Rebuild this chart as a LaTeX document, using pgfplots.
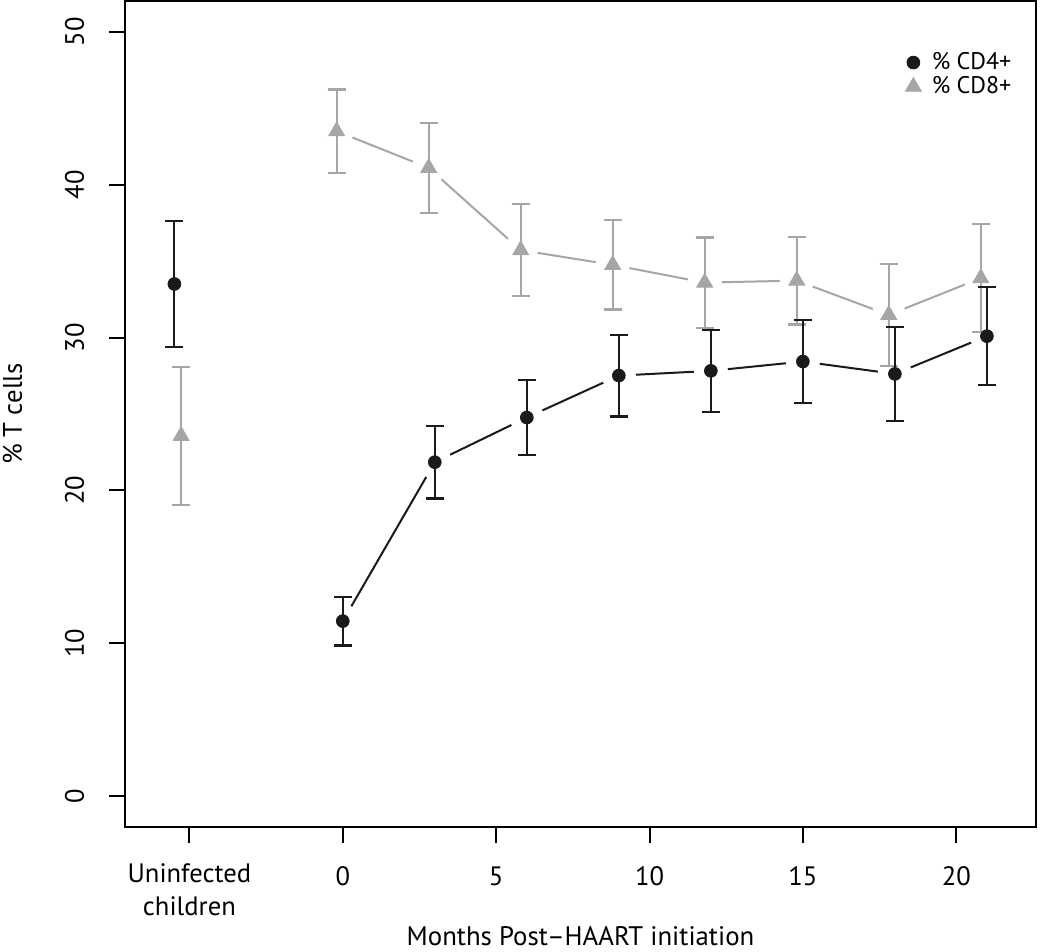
\documentclass[border=0pt]{standalone}
\usepackage{pgfplots}
\pgfplotsset{compat=1.18}
\usepackage{pgfplotstable}
\usepackage{fontspec}
\setmainfont{PT Sans}
\definecolor{cdfour}{HTML}{1A1A1A}
\definecolor{cdeight}{HTML}{A6A6A6}

\pgfplotstableread{
x y e
0 11.46 1.60
3 21.85 2.38
6 24.77 2.47
9 27.51 2.67
12 27.82 2.69
15 28.43 2.70
18 27.62 3.08
21 30.09 3.21
}\cdfour
\pgfplotstableread{
x y e
-0.2 43.49 2.73
2.8 41.09 2.94
5.8 35.71 3.01
8.8 34.75 2.92
11.8 33.59 2.95
14.8 33.72 2.87
17.8 31.48 3.33
20.8 33.88 3.52
}\cdeight
\pgfplotstableread{
x y e
-5.49 33.50 4.12
}\cdfouru
\pgfplotstableread{
x y e
-5.27 23.57 4.50
}\cdeightu

\begin{document}
\begin{tikzpicture}
\path[use as bounding box] (-62.5pt,-62.5pt) rectangle (462.5pt,413.5pt);
\begin{axis}[
  at={(0,0)}, anchor=south west, scale only axis,
  width=455.5pt, height=413pt,
  xmin=-7.1, xmax=22.6, ymin=-2, ymax=52,
  clip mode=individual,
  axis line style={line width=1pt, black},
  xtick={-5,0,5,10,15,20},
  xticklabels={{\raisebox{1.5pt}{\begin{tabular}[t]{@{}c@{}}Uninfected\\children\end{tabular}}},0,5,10,15,20},
  ytick={0,10,20,30,40,50},
  yticklabels={0,10,20,30,40,50},
  xtick pos=bottom, ytick pos=left,
  tick align=outside, major tick length=8pt,
  tick style={line width=1pt, black},
  ticklabel style={font=\fontsize{13.3}{16.2}\selectfont},
  xticklabel style={anchor=base, yshift=-21.5pt},
  yticklabel style={xshift=-12.5pt, rotate=90, anchor=base},
  every axis x label/.style={at={(axis description cs:0.5,0)}, anchor=base, yshift=-59.5pt, font=\fontsize{13.4}{16}\selectfont},
  every axis y label/.style={at={(axis description cs:0,0.5)}, xshift=-51.5pt, rotate=90, anchor=base, font=\fontsize{13.4}{16}\selectfont},
  xlabel={Months Post–HAART initiation},
  ylabel={\% T cells},
  reverse legend,
  legend cell align=left,
  legend image code/.code={\path[draw=none, fill=none] (0pt,0pt) -- (14.4pt,0pt); \draw[mark repeat=2,mark phase=2,#1] plot coordinates {(0pt,0pt) (7.2pt,0pt) (14.4pt,0pt)};},
  legend style={draw=none, fill=none, at={(axis cs:18.12,48.92)}, anchor=north west,
    inner sep=0pt, font=\fontsize{12}{14}\selectfont, row sep=-2pt},
]
% connecting lines
\addplot[forget plot, color=cdeight, line width=1pt, mark=none] table[x=x,y=y] {\cdeight};
\addplot[forget plot, color=cdfour, line width=1pt, mark=none] table[x=x,y=y] {\cdfour};
% gaps around points (type b)
\addplot[forget plot, only marks, white, mark=*, mark size=8.3pt, mark options={draw=white, fill=white}] table[x=x,y=y] {\cdeight};
\addplot[forget plot, only marks, white, mark=*, mark size=8.3pt, mark options={draw=white, fill=white}] table[x=x,y=y] {\cdfour};
% CD8 points with error bars
\addplot[only marks, color=cdeight, mark=triangle*, mark size=4.6pt, mark options={draw=none, fill=cdeight},
  error bars/.cd, y dir=both, y explicit,
  error bar style={line width=1.1pt, cdeight},
  error mark options={rotate=90, mark size=4.5pt, line width=1.1pt, cdeight}]
  table[x=x,y=y,y error=e] {\cdeight};
\addlegendentry{\% CD8+}
\addplot[forget plot, only marks, color=cdeight, mark=triangle*, mark size=4.6pt, mark options={draw=none, fill=cdeight},
  error bars/.cd, y dir=both, y explicit,
  error bar style={line width=1.1pt, cdeight},
  error mark options={rotate=90, mark size=4.5pt, line width=1.1pt, cdeight}]
  table[x=x,y=y,y error=e] {\cdeightu};
% CD4 points with error bars
\addplot[only marks, color=cdfour, mark=*, mark size=3.2pt, mark options={draw=none, fill=cdfour},
  error bars/.cd, y dir=both, y explicit,
  error bar style={line width=1.1pt, cdfour},
  error mark options={rotate=90, mark size=4.5pt, line width=1.1pt, cdfour}]
  table[x=x,y=y,y error=e] {\cdfour};
\addlegendentry{\% CD4+}
\addplot[forget plot, only marks, color=cdfour, mark=*, mark size=3.2pt, mark options={draw=none, fill=cdfour},
  error bars/.cd, y dir=both, y explicit,
  error bar style={line width=1.1pt, cdfour},
  error mark options={rotate=90, mark size=4.5pt, line width=1.1pt, cdfour}]
  table[x=x,y=y,y error=e] {\cdfouru};
\end{axis}
\end{tikzpicture}
\end{document}
